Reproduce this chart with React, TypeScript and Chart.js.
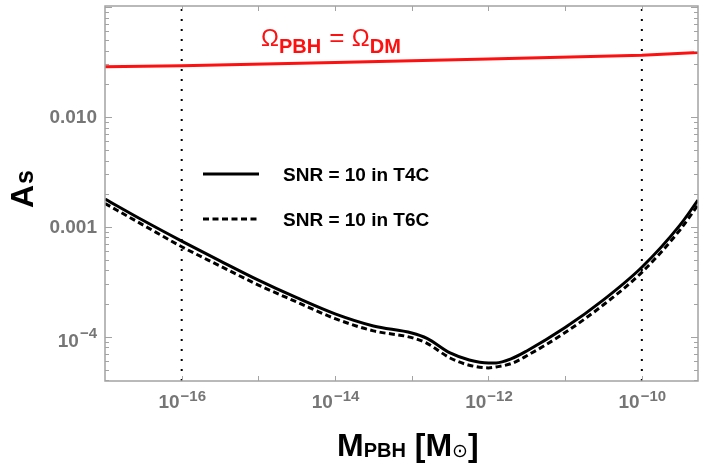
import React, { useEffect, useRef } from "react";
import { Chart, registerables } from "chart.js";

Chart.register(...registerables);

// ---------- data ----------
const massValues = [
  1e-17, 3.16e-17, 1e-16, 3.16e-16, 1e-15, 3.16e-15, 1e-14, 3.16e-14, 1e-13,
  1.58e-13, 3.16e-13, 5.62e-13, 1e-12, 1.26e-12, 2e-12, 3.16e-12, 1e-11,
  3.16e-11, 1e-10, 3.16e-10, 5.4e-10,
];
const snrT4C = [
  1.79e-3, 1.14e-3, 7.41e-4, 4.9e-4, 3.27e-4, 2.26e-4, 1.61e-4, 1.25e-4, 1.08e-4,
  9.66e-5, 7.11e-5, 6.14e-5, 5.77e-5, 5.77e-5, 6.3e-5, 7.41e-5, 1.21e-4,
  2.16e-4, 4.28e-4, 1.04e-3, 1.75e-3,
];
const snrT6C = [
  1.63e-3, 1.035e-3, 6.58e-4, 4.4e-4, 2.95e-4, 2.07e-4, 1.46e-4, 1.13e-4, 9.8e-5,
  8.7e-5, 6.4e-5, 5.5e-5, 5.2e-5, 5.3e-5, 5.7e-5, 6.7e-5, 1.09e-4, 1.95e-4,
  3.85e-4, 9.4e-4, 1.58e-3,
];
const dmMass = [1e-17, 1e-16, 1e-14, 1e-12, 1e-10, 5.4e-10];
const dmAmplitude = [0.0285, 0.0291, 0.0313, 0.0336, 0.0364, 0.0385];
const verticalMarkers = [1e-16, 1e-10];

const xMin = 1e-17;
const xMax = 5.4e-10;
const yMin = 3.95e-5;
const yMax = 0.102;

const xTickExponents = [-17, -16, -15, -14, -13, -12, -11, -10];
const xLabelExponents = [-16, -14, -12, -10];
const xLabelExpText = ["\u221216", "\u221214", "\u221212", "\u221210"];
const yLabelValues = [1e-4, 1e-3, 1e-2];
const yLabelMain = ["10", "0.001", "0.010"];
const yLabelExp = ["\u22124", "", ""];

const legendLabels = ["SNR = 10 in T4C", "SNR = 10 in T6C"];
const dmLabelMass = 1.08e-15;
const dmLabelA = 0.044;

const FONT = "'Liberation Sans', Arial, Helvetica, sans-serif";
const TICK_COLOR = "#767676";
const FRAME_COLOR = "#a3a3a3";

const framePlugin = {
  id: "mmaFrame",
  afterDatasetsDraw(chart: any) {
    const { ctx, chartArea: a, scales } = chart;
    const xs = scales.x;
    const ys = scales.y;
    ctx.save();
    ctx.strokeStyle = FRAME_COLOR;
    ctx.lineWidth = 1.5;
    ctx.strokeRect(a.left, a.top, a.right - a.left, a.bottom - a.top);
    ctx.lineWidth = 1;
    ctx.beginPath();
    for (const e of xTickExponents) {
      const px = Math.round(xs.getPixelForValue(Math.pow(10, e))) + 0.5;
      if (px < a.left + 1 || px > a.right - 1) continue;
      ctx.moveTo(px, a.bottom);
      ctx.lineTo(px, a.bottom - 5);
      ctx.moveTo(px, a.top);
      ctx.lineTo(px, a.top + 5);
    }
    for (let d = -5; d <= -1; d++) {
      for (let m = 1; m <= 9; m++) {
        const v = m * Math.pow(10, d);
        if (v < yMin || v > yMax) continue;
        const py = Math.round(ys.getPixelForValue(v)) + 0.5;
        const len = m === 1 ? 7 : 4;
        ctx.moveTo(a.left, py);
        ctx.lineTo(a.left + len, py);
        ctx.moveTo(a.right, py);
        ctx.lineTo(a.right - len, py);
      }
    }
    ctx.stroke();
    ctx.restore();
  },
  afterDraw(chart: any) {
    const { ctx, chartArea: a, scales } = chart;
    const xs = scales.x;
    const ys = scales.y;
    ctx.save();
    // x tick labels
    ctx.fillStyle = TICK_COLOR;
    ctx.textBaseline = "alphabetic";
    ctx.textAlign = "left";
    xLabelExponents.forEach((e, i) => {
      const px = xs.getPixelForValue(Math.pow(10, e));
      ctx.font = `bold 19px ${FONT}`;
      const wBase = ctx.measureText("10").width;
      ctx.font = `bold 15px ${FONT}`;
      const wExp = ctx.measureText(xLabelExpText[i]).width;
      const x0 = px - (wBase + wExp) / 2;
      ctx.font = `bold 19px ${FONT}`;
      ctx.fillText("10", x0, a.bottom + 27);
      ctx.font = `bold 15px ${FONT}`;
      ctx.fillText(xLabelExpText[i], x0 + wBase + 1, a.bottom + 20);
    });
    // y tick labels
    ctx.textAlign = "right";
    yLabelValues.forEach((v, i) => {
      const py = ys.getPixelForValue(v);
      const xr = a.left - 8;
      if (yLabelExp[i]) {
        ctx.font = `bold 15px ${FONT}`;
        const wExp = ctx.measureText(yLabelExp[i]).width;
        ctx.fillText(yLabelExp[i], xr, py + 1.5);
        ctx.font = `bold 19px ${FONT}`;
        ctx.fillText(yLabelMain[i], xr - wExp - 1, py + 10);
      } else {
        ctx.font = `bold 19px ${FONT}`;
        ctx.fillText(yLabelMain[i], xr, py + 6.5);
      }
    });
    // x title: M_PBH [M_sun]
    ctx.fillStyle = "#000";
    ctx.textAlign = "left";
    const parts: [string, string, number][] = [
      ["M", `bold 32px ${FONT}`, 0],
      ["PBH", `bold 20px ${FONT}`, 1],
      [" [M", `bold 32px ${FONT}`, 0],
      ["\u2299", `19px 'DejaVu Sans', ${FONT}`, 1],
      ["]", `bold 32px ${FONT}`, 0],
    ];
    let cx = 337;
    const base = 456;
    for (const [t, f, dy] of parts) {
      ctx.font = f;
      ctx.fillText(t, cx, base + dy);
      cx += ctx.measureText(t).width;
    }
    // y title A_s rotated
    ctx.save();
    ctx.translate(33, 208);
    ctx.rotate(-Math.PI / 2);
    ctx.font = `bold 32px ${FONT}`;
    ctx.fillText("A", 0, 0);
    const wA = ctx.measureText("A").width;
    ctx.font = `bold 25px ${FONT}`;
    ctx.fillText("s", wA + 1, 0);
    ctx.restore();

    // legend
    const lx0 = a.left + 98;
    const lx1 = a.left + 154;
    const tx = a.left + 178;
    const rows = [a.top + 168, a.top + 213];
    rows.forEach((ry, i) => {
      ctx.save();
      ctx.strokeStyle = "#000";
      ctx.lineWidth = 3;
      ctx.setLineDash(i === 0 ? [] : [6, 3.5]);
      ctx.beginPath();
      ctx.moveTo(lx0, ry);
      ctx.lineTo(lx1, ry);
      ctx.stroke();
      ctx.restore();
      ctx.fillStyle = "#000";
      ctx.font = `bold 19px ${FONT}`;
      ctx.textAlign = "left";
      ctx.fillText(legendLabels[i], tx, ry + 7);
    });

    // red annotation
    const ax = xs.getPixelForValue(dmLabelMass);
    const ay = ys.getPixelForValue(dmLabelA);
    ctx.fillStyle = "#ff1010";
    const red: [string, string, number][] = [
      ["\u03A9", `24px ${FONT}`, 0],
      ["PBH", `bold 20px ${FONT}`, 7],
      [" = ", `26px ${FONT}`, 0],
      ["\u03A9", `24px ${FONT}`, 0],
      ["DM", `bold 20px ${FONT}`, 7],
    ];
    let rx = ax;
    for (const [t, f, dy] of red) {
      ctx.font = f;
      ctx.fillText(t, rx, ay + dy);
      rx += ctx.measureText(t).width + (dy ? 1 : 0);
    }
    ctx.restore();
  },
};

export default function App() {
  const canvasRef = useRef<HTMLCanvasElement | null>(null);

  useEffect(() => {
    const canvas = canvasRef.current;
    if (!canvas) return;
    const pts = (xsArr: number[], ysArr: number[]) =>
      xsArr.map((x, i) => ({ x, y: ysArr[i] }));
    const datasets: any[] = [
      {
        label: legendLabels[0],
        data: pts(massValues, snrT4C),
        borderColor: "#000",
        borderWidth: 3,
        pointRadius: 0,
        cubicInterpolationMode: "monotone",
      },
      {
        label: legendLabels[1],
        data: pts(massValues, snrT6C),
        borderColor: "#000",
        borderWidth: 3,
        borderDash: [6, 3.5],
        pointRadius: 0,
        cubicInterpolationMode: "monotone",
      },
      {
        label: "DM",
        data: pts(dmMass, dmAmplitude),
        borderColor: "#ff1010",
        borderWidth: 3,
        pointRadius: 0,
        tension: 0,
      },
      ...verticalMarkers.map((m) => ({
        label: "marker",
        data: [
          { x: m, y: yMin },
          { x: m, y: yMax },
        ],
        borderColor: "#000",
        borderWidth: 2,
        borderDash: [2, 8],
        borderCapStyle: "butt",
        pointRadius: 0,
      })),
    ];
    const chart = new Chart(canvas, {
      type: "line",
      data: { datasets },
      options: {
        animation: false,
        responsive: false,
        maintainAspectRatio: false,
        parsing: false,
        layout: { padding: { left: 105, right: 7, top: 6, bottom: 85 } },
        plugins: { legend: { display: false }, tooltip: { enabled: false } },
        scales: {
          x: { type: "logarithmic", min: xMin, max: xMax, display: false },
          y: { type: "logarithmic", min: yMin, max: yMax, display: false },
        },
      } as any,
      plugins: [framePlugin],
    });
    return () => chart.destroy();
  }, []);

  return (
    <div
      style={{
        position: "fixed",
        left: 0,
        top: 0,
        width: 705,
        height: 466,
        background: "#fff",
      }}
    >
      <canvas ref={canvasRef} width={705} height={466} style={{ display: "block" }} />
    </div>
  );
}
